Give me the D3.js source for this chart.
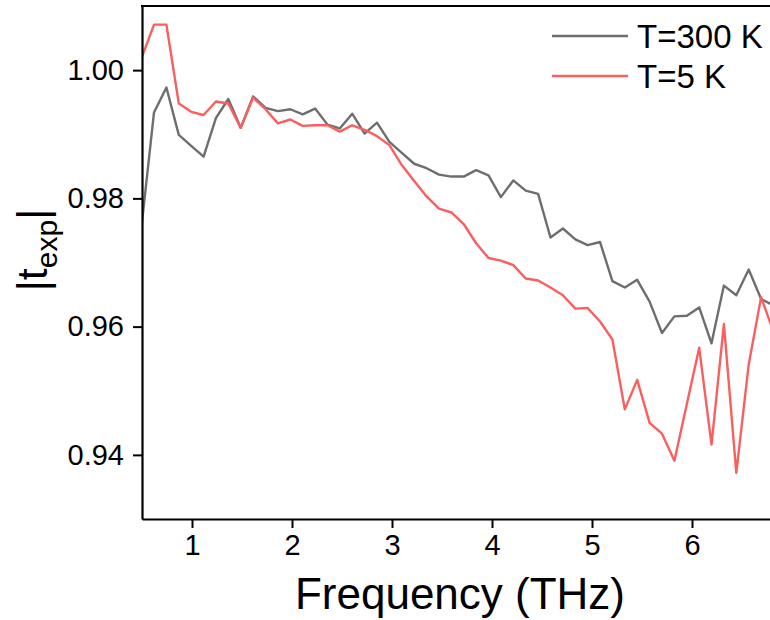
<!DOCTYPE html>
<html>
<head>
<meta charset="utf-8">
<script src="https://cdn.jsdelivr.net/npm/d3@7"></script>
<style>
  html, body { margin: 0; padding: 0; background: #fff; }
  svg { display: block; font-family: "Liberation Sans", Arial, sans-serif; }
</style>
</head>
<body>
<svg id="chart" width="770" height="620"></svg>
<script>
// Frequency grid (THz)
const frequency = [
  0.496, 0.620, 0.744, 0.868, 0.992, 1.116, 1.239, 1.363, 1.487, 1.611,
  1.735, 1.859, 1.983, 2.107, 2.231, 2.355, 2.478, 2.602, 2.726, 2.850,
  2.974, 3.098, 3.222, 3.346, 3.470, 3.594, 3.717, 3.841, 3.965, 4.089,
  4.213, 4.337, 4.461, 4.585, 4.709, 4.833, 4.956, 5.080, 5.204, 5.328,
  5.452, 5.576, 5.700, 5.824, 5.948, 6.072, 6.195, 6.319, 6.443, 6.567,
  6.691, 6.815
];

// |t_exp| at room temperature
const t300K = [
  0.9757, 0.9934, 0.9973, 0.9899, 0.9882, 0.9865, 0.9925, 0.9955, 0.9910, 0.9959,
  0.9941, 0.9936, 0.9939, 0.9931, 0.9940, 0.9915, 0.9909, 0.9932, 0.9901, 0.9918,
  0.9888, 0.9871, 0.9854, 0.9847, 0.9837, 0.9834, 0.9834, 0.9844, 0.9836, 0.9802,
  0.9828, 0.9812, 0.9807, 0.9739, 0.9753, 0.9736, 0.9727, 0.9732, 0.9671, 0.9661,
  0.9673, 0.9639, 0.9590, 0.9616, 0.9617, 0.9630, 0.9574, 0.9664, 0.9649, 0.9689,
  0.9643, 0.9633
];

// |t_exp| at 5 K
const t5K = [
  1.0019, 1.0071, 1.0071, 0.9948, 0.9935, 0.9930, 0.9951, 0.9948, 0.9910, 0.9957,
  0.9939, 0.9917, 0.9923, 0.9913, 0.9914, 0.9914, 0.9904, 0.9914, 0.9907, 0.9897,
  0.9883, 0.9852, 0.9827, 0.9803, 0.9784, 0.9778, 0.9760, 0.9730, 0.9707, 0.9703,
  0.9696, 0.9675, 0.9672, 0.9661, 0.9649, 0.9628, 0.9629, 0.9608, 0.9580, 0.9471,
  0.9517, 0.9450, 0.9433, 0.9391, 0.9479, 0.9567, 0.9416, 0.9604, 0.9372, 0.9541,
  0.9646, 0.9592
];

const xTicks = [1, 2, 3, 4, 5, 6];
const yTicks = [0.94, 0.96, 0.98, 1.00];

const seriesNames = ["T=300 K", "T=5 K"];
const seriesColors = ["#6e6e6e", "#fa5f5f"];

const svg = d3.select("#chart");
const plot = { left: 142, right: 770, top: 6, bottom: 519 };

const x = d3.scaleLinear().domain([0.5, 6.78]).range([plot.left, plot.right]);
const y = d3.scaleLinear().domain([0.93, 1.01]).range([plot.bottom, plot.top]);

svg.append("defs").append("clipPath").attr("id", "plotClip")
  .append("rect")
  .attr("x", plot.left).attr("y", plot.top)
  .attr("width", plot.right - plot.left).attr("height", plot.bottom - plot.top);

const line = d3.line()
  .x(d => x(d[0]))
  .y(d => y(d[1]));

const series = [t300K, t5K];
const lines = svg.append("g").attr("clip-path", "url(#plotClip)");
series.forEach((vals, i) => {
  lines.append("path")
    .datum(frequency.map((f, k) => [f, vals[k]]))
    .attr("fill", "none")
    .attr("stroke", seriesColors[i])
    .attr("stroke-width", 2.4)
    .attr("stroke-linejoin", "round")
    .attr("d", line);
});

// Axes
const xAxis = d3.axisBottom(x).tickValues(xTicks).tickFormat(d3.format("d"))
  .tickSizeInner(9).tickSizeOuter(0).tickPadding(6);
const yAxis = d3.axisLeft(y).tickValues(yTicks).tickFormat(d3.format(".2f"))
  .tickSizeInner(9).tickSizeOuter(0).tickPadding(9);

const gx = svg.append("g").attr("transform", `translate(0,${plot.bottom})`).call(xAxis);
const gy = svg.append("g").attr("transform", `translate(${plot.left},0)`).call(yAxis);

[gx, gy].forEach(g => {
  g.select(".domain").attr("stroke", "#000").attr("stroke-width", 2.2);
  g.selectAll(".tick line").attr("stroke", "#000").attr("stroke-width", 2);
  g.selectAll(".tick text").attr("fill", "#000")
    .style("font-family", "'Liberation Sans', Arial, sans-serif")
    .style("font-size", "29px");
});

// Top frame line
svg.append("line")
  .attr("x1", plot.left - 1).attr("x2", plot.right)
  .attr("y1", plot.top).attr("y2", plot.top)
  .attr("stroke", "#000").attr("stroke-width", 2.2);

// Axis titles
svg.append("text")
  .attr("x", 460).attr("y", 609)
  .attr("text-anchor", "middle")
  .style("font-size", "44px")
  .text("Frequency (THz)");

const yTitle = svg.append("text")
  .attr("transform", "translate(47,250) rotate(-90)")
  .attr("text-anchor", "middle")
  .style("font-size", "43px");
yTitle.append("tspan").text("|t");
yTitle.append("tspan").attr("dy", 10).style("font-size", "30px").text("exp");
yTitle.append("tspan").attr("dy", -10).text("|");

// Legend
const legend = svg.append("g");
seriesNames.forEach((name, i) => {
  const ly = 36 + i * 40;
  legend.append("line")
    .attr("x1", 552).attr("x2", 628)
    .attr("y1", ly).attr("y2", ly)
    .attr("stroke", seriesColors[i]).attr("stroke-width", 2.4);
  legend.append("text")
    .attr("x", 637).attr("y", ly + 12)
    .style("font-size", "33px")
    .text(name);
});
</script>
</body>
</html>
